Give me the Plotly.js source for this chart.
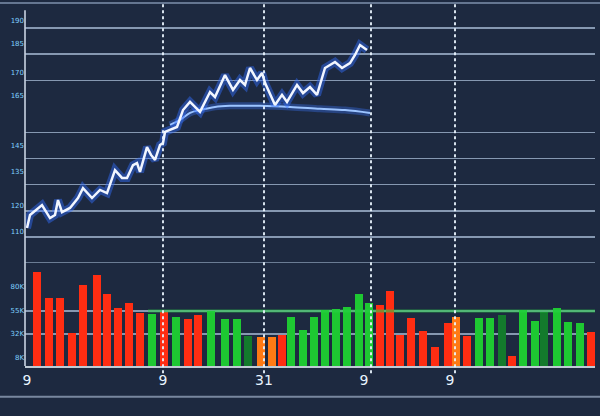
<!DOCTYPE html>
<html><head><meta charset="utf-8">
<script src="https://cdn.plot.ly/plotly-3.0.1.min.js"></script>
<style>html,body{margin:0;padding:0;background:#1d2940;}#chart{width:600px;height:416px;}</style>
</head><body><div id="chart"></div>
<script>
// ---- data ----
const priceX = [0.4,1,3.4,5,6,6.6,7.4,9,10.6,11.6,13.4,15,16.4,18,19.4,20.4,21.6,22.4,23,24.4,25.2,26,27,27.6,28,29,30.4,31.6,33,35,37,38,40,41.6,43,44,45,46.4,47.4,48,50,51.4,52.4,54.4,55.6,57,58.4,60,62,63.4,65,66,67,68.4];
const priceY = [113.4,118.4,122.2,117.2,118.4,124.1,119.5,121.1,124.9,128.7,124.9,128.0,126.8,135.6,132.6,132.6,137.5,138.3,134.9,144.4,141.4,139.5,145.2,146.0,150.2,151.0,152.1,158.6,161.7,157.9,165.5,163.6,172.0,166.3,170.1,168.2,174.7,170.1,172.8,169.0,160.5,164.4,161.7,168.2,165.1,167.4,164.4,174.7,177.0,174.7,176.6,179.7,183.5,181.6];
const maX = [29,31,33,35,38,41,47,53,59,64,69];
const maY = [152.9,154.8,157.5,158.6,159.8,160.2,160.2,159.8,159.1,158.6,157.5];
const volX = [2.4,4.8,7,9.4,11.6,14.4,16.4,18.6,20.8,23,25.4,27.8,30.2,32.6,34.6,37.2,40,42.4,44.6,47.2,49.4,51.4,53.2,55.6,57.8,60,62.2,64.4,66.8,68.8,71,73,75,77.2,79.6,82,84.6,86.2,88.4,90.8,93,95.4,97.4,99.6,102,103.8,106.4,108.6,111,113.2];
const volY = [94,68,68,33,81,91,72,58,63,53,52,54,49,47,51,55,47,47,30,29,29,31,49,36,49,56,57,59,72,63,61,75,31,48,35,19,43,49,30,48,48,51,10,56,45,54,58,44,43,34];
const volDir = ['d','d','d','d','d','d','d','d','d','d','u','d','u','d','d','u','u','u','g','o','o','d','u','u','u','u','u','u','u','u','d','d','d','d','d','d','d','o','d','u','u','g','d','u','u','g','u','u','u','d'];
const xTickVals = [0.4,27.6,47.8,67.8,85];
const xTickText = ['9','9','31','9','9'];
const priceGrid = [100,110,120,130,140,150,170,180,190];
const volGrid = [32,55];
const priceLabelVals = [193,184,173,164,145,135,122,112];
const priceLabelText = ['190','185','170','165','145','135','120','110'];
const volLabelVals = [79,55,32,8];
const volLabelText = ['80K','55K','32K','8K'];
const markerX = [27.6,47.8,69.2,86];
const volBand = [55];

// ---- style ----
const dirColor = {d:'#ff2d12', u:'#1ec832', o:'#ff7a14', g:'#137a2c'};
const gridCol = 'rgba(170,190,215,0.75)';

const traces = [
  {x:maX, y:maY, mode:'lines', line:{color:'rgba(60,120,255,0.35)', width:7, shape:'spline'}, hoverinfo:'skip', showlegend:false},
  {x:maX, y:maY, mode:'lines', line:{color:'#9cc4ff', width:2, shape:'spline'}, showlegend:false},
  {x:priceX, y:priceY, mode:'lines', line:{color:'rgba(50,110,255,0.45)', width:8}, hoverinfo:'skip', showlegend:false},
  {x:priceX, y:priceY, mode:'lines', line:{color:'#f2f6ff', width:2.5}, showlegend:false},
  {x:volX, y:volY, type:'bar', yaxis:'y2', width:1.6, marker:{color:volDir.map(d=>dirColor[d]), line:{width:0}}, showlegend:false},
  {x:[24.6,114], y:[volBand[0],volBand[0]], yaxis:'y2', mode:'lines', line:{color:'rgba(40,210,70,0.55)', width:3}, hoverinfo:'skip', showlegend:false},
  {x:[0], y:[150], yaxis:'y3', mode:'markers', marker:{opacity:0}, hoverinfo:'skip', showlegend:false},
  {x:[0], y:[50], yaxis:'y4', mode:'markers', marker:{opacity:0}, hoverinfo:'skip', showlegend:false}
];

const shapes = markerX.map(v => ({type:'line', xref:'x', yref:'paper', x0:v, x1:v, y0:-0.02, y1:1,
  line:{color:'rgba(235,245,255,0.9)', width:2, dash:'dot'}}));
shapes.push({type:'line', xref:'paper', yref:'paper', x0:0, x1:0, y0:0, y1:0.98, line:{color:'rgba(200,210,225,0.8)', width:2}});
shapes.push({type:'line', xref:'paper', yref:'y', x0:0, x1:1, y0:priceGrid[0], y1:priceGrid[0], line:{color:gridCol, width:1.5}, layer:'below'});
shapes.push({type:'line', xref:'paper', yref:'paper', x0:-0.05, x1:1.01, y0:-0.085, y1:-0.085, line:{color:'rgba(160,175,200,0.7)', width:2}});
shapes.push({type:'line', xref:'paper', yref:'paper', x0:-0.05, x1:1.01, y0:1, y1:1, line:{color:'rgba(150,170,200,0.6)', width:2}});

const layout = {
  width:600, height:416,
  margin:{l:25, r:5, t:3, b:50},
  paper_bgcolor:'#1d2940', plot_bgcolor:'#1d2940',
  showlegend:false, bargap:0,
  xaxis:{anchor:'y2', range:[0,114], showgrid:false, zeroline:false, showline:true, linecolor:'rgba(220,230,240,0.85)', linewidth:2,
    tickvals:xTickVals, ticktext:xTickText, ticks:'', tickfont:{family:'DejaVu Sans', size:14, color:'#e8f4ff'}},
  yaxis:{domain:[0.2837,1], range:[100,199.6], tickvals:priceGrid, showticklabels:false, ticks:'',
    showgrid:true, gridcolor:gridCol, gridwidth:1.5, zeroline:false},
  yaxis2:{domain:[0,0.2837], range:[0,103], tickvals:volGrid, showticklabels:false, ticks:'',
    showgrid:true, gridcolor:gridCol, gridwidth:1.5, zeroline:false},
  yaxis3:{overlaying:'y', range:[100,199.6], tickvals:priceLabelVals, ticktext:priceLabelText, showgrid:false, zeroline:false,
    ticks:'', tickfont:{family:'DejaVu Sans', size:7, color:'#7fd0ff'}, side:'left'},
  yaxis4:{overlaying:'y2', range:[0,103], tickvals:volLabelVals, ticktext:volLabelText, showgrid:false, zeroline:false,
    ticks:'', tickfont:{family:'DejaVu Sans', size:7, color:'#7fd0ff'}, side:'left'},
  shapes:shapes
};
Plotly.newPlot('chart', traces, layout, {displayModeBar:false, staticPlot:true});
</script></body></html>
